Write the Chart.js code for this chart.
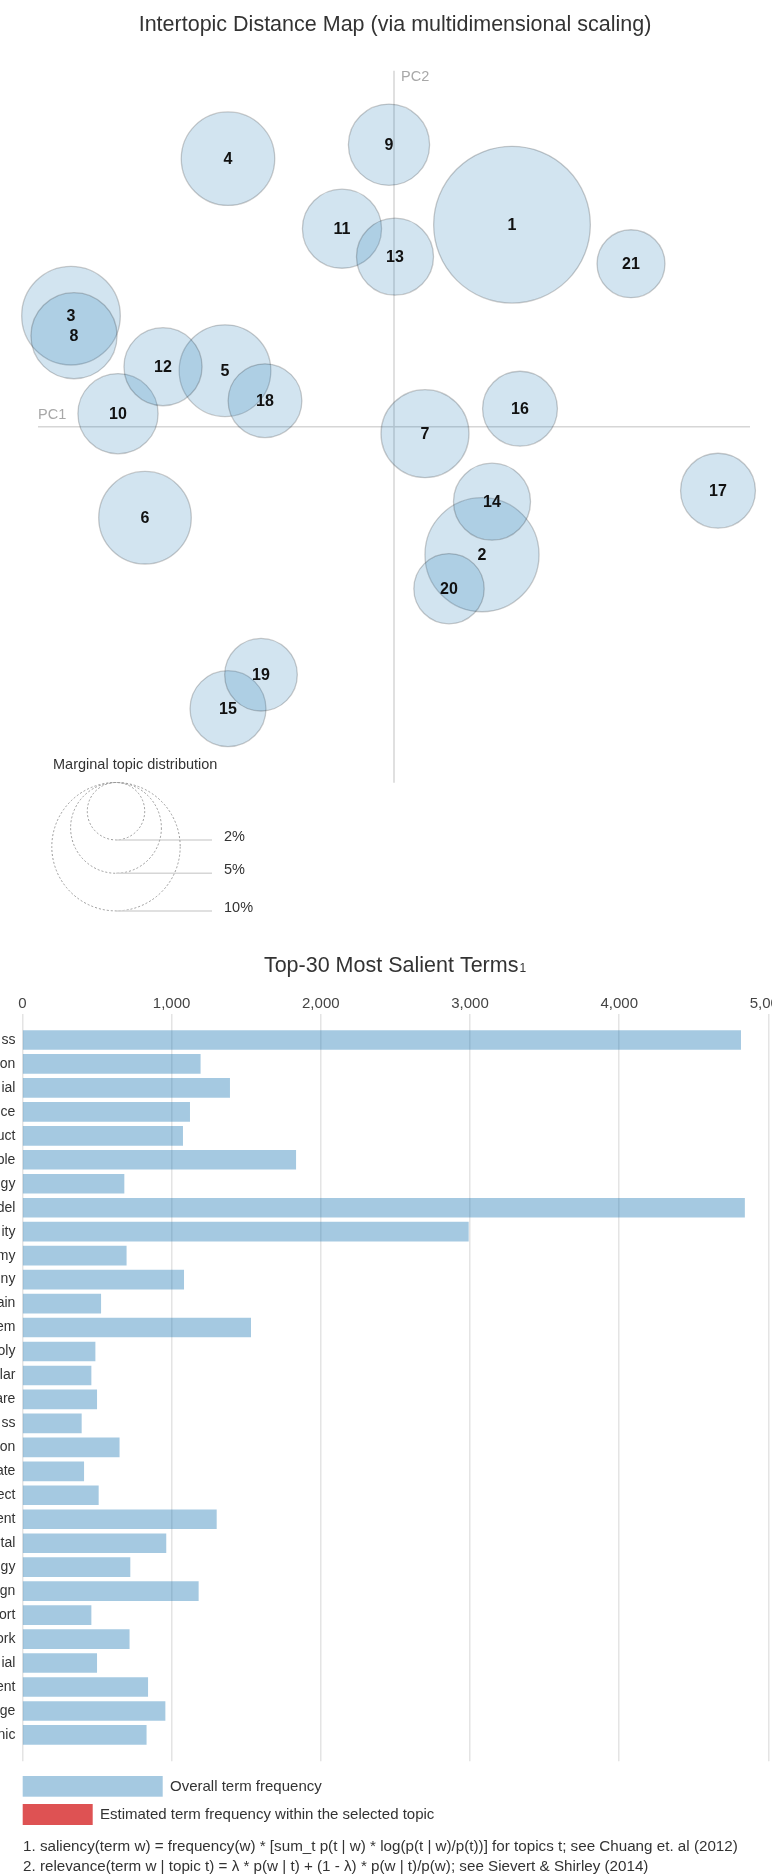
<!DOCTYPE html>
<html>
<head>
<meta charset="utf-8">
<title>Intertopic Distance Map / Top-30 Most Salient Terms</title>
<script src="https://cdn.jsdelivr.net/npm/chart.js@4.4.1/dist/chart.umd.min.js"></script>
<style>
  html, body { margin: 0; padding: 0; background: #fff; overflow: hidden; width: 772px; height: 1874px; }
  #map { position: absolute; left: 0; top: 0; }
  #terms { position: absolute; left: 0; top: 930px; }
</style>
</head>
<body>
<canvas id="map" width="772" height="930"></canvas>
<canvas id="terms" width="800" height="944"></canvas>
<script>
const FONT = '"Liberation Sans", Arial, Helvetica, sans-serif';

// topics on the MDS map (PC1 / PC2) and their marginal share in %
const topicIds = [1, 2, 3, 4, 5, 6, 7, 8, 9, 10, 11, 12, 13, 14, 15, 16, 17, 18, 19, 20, 21];
const topicPC1 = [0.118, 0.088, -0.323, -0.166, -0.169, -0.249, 0.031, -0.320, -0.005, -0.276, -0.052,
                  -0.231, 0.001, 0.098, -0.166, 0.126, 0.324, -0.129, -0.133, 0.055, 0.237];
const topicPC2 = [0.202, -0.128, 0.111, 0.268, 0.056, -0.091, -0.007, 0.091, 0.282, 0.013, 0.198,
                  0.060, 0.170, -0.075, -0.282, 0.018, -0.064, 0.026, -0.248, -0.162, 0.163];
const topicShare = [14.9, 7.9, 5.9, 5.3, 5.1, 5.2, 4.7, 4.5, 4.0, 3.9, 3.8,
                    3.7, 3.6, 3.6, 3.5, 3.4, 3.4, 3.3, 3.2, 3.0, 2.8];
const legendShares = [2, 5, 10];

// salient terms (words are cut off at the left edge of the source)
const terms = ['ss', 'on', 'ial', 'ce', 'uct', 'ble', 'gy', 'del', 'ity', 'my', 'ny', 'ain', 'em', 'oly', 'lar',
               'are', 'ss', 'on', 'ate', 'ect', 'ent', 'tal', 'gy', 'gn', 'ort', 'ork', 'ial', 'ent', 'ge', 'nic'];
const termFreq = [4814, 1192, 1389, 1121, 1074, 1832, 681, 4840, 2989, 696, 1081, 525, 1530, 487, 460,
                  498, 395, 649, 411, 509, 1300, 962, 721, 1179, 460, 716, 498, 840, 956, 830];
const freqTicks = [0, 1000, 2000, 3000, 4000, 5000];

const radiusOf = share => 20.3 * Math.sqrt(share);
const AXIS_EXT = 0.356;

const mapDecor = {
  id: 'mapDecor',
  beforeDatasetsDraw(chart) {
    const { ctx, scales: { x, y } } = chart;
    ctx.save();
    ctx.fillStyle = '#333';
    ctx.font = `21.5px ${FONT}`;
    ctx.textAlign = 'center';
    ctx.textBaseline = 'alphabetic';
    ctx.fillText('Intertopic Distance Map (via multidimensional scaling)', 395, 31);

    // PC axes
    ctx.strokeStyle = '#d6d6d6';
    ctx.lineWidth = 1.5;
    ctx.beginPath();
    ctx.moveTo(x.getPixelForValue(-AXIS_EXT), y.getPixelForValue(0));
    ctx.lineTo(x.getPixelForValue(AXIS_EXT), y.getPixelForValue(0));
    ctx.moveTo(x.getPixelForValue(0), y.getPixelForValue(AXIS_EXT));
    ctx.lineTo(x.getPixelForValue(0), y.getPixelForValue(-AXIS_EXT));
    ctx.stroke();

    ctx.fillStyle = '#a8a8a8';
    ctx.font = `14.5px ${FONT}`;
    ctx.textAlign = 'left';
    ctx.textBaseline = 'middle';
    ctx.fillText('PC1', x.getPixelForValue(-AXIS_EXT), y.getPixelForValue(0) - 12);
    ctx.fillText('PC2', x.getPixelForValue(0) + 7, y.getPixelForValue(AXIS_EXT) + 6);
    ctx.restore();
  },
  afterDatasetsDraw(chart) {
    const { ctx } = chart;
    const meta = chart.getDatasetMeta(0);
    ctx.save();
    // topic numbers
    ctx.fillStyle = '#111';
    ctx.font = `bold 16px ${FONT}`;
    ctx.textAlign = 'center';
    ctx.textBaseline = 'middle';
    meta.data.forEach((pt, i) => ctx.fillText(String(topicIds[i]), pt.x, pt.y + 1));

    // marginal topic distribution legend
    ctx.fillStyle = '#333';
    ctx.font = `14.5px ${FONT}`;
    ctx.textAlign = 'left';
    ctx.fillText('Marginal topic distribution', 53, 765);
    const cx = 116, top = 782.5;
    legendShares.forEach(s => {
      const r = radiusOf(s);
      const bottom = top + 2 * r;
      ctx.setLineDash([2, 2]);
      ctx.strokeStyle = '#9a9a9a';
      ctx.lineWidth = 1;
      ctx.beginPath();
      ctx.arc(cx, top + r, r, 0, Math.PI * 2);
      ctx.stroke();
      ctx.setLineDash([]);
      ctx.strokeStyle = '#d6d6d6';
      ctx.lineWidth = 1.5;
      ctx.beginPath();
      ctx.moveTo(cx, bottom);
      ctx.lineTo(212, bottom);
      ctx.stroke();
      ctx.textBaseline = 'alphabetic';
      ctx.fillStyle = '#333';
      ctx.fillText(s + '%', 224, bottom + 1);
    });
    ctx.restore();
  }
};

new Chart(document.getElementById('map'), {
  type: 'bubble',
  data: {
    datasets: [{
      data: topicIds.map((id, i) => ({ x: topicPC1[i], y: topicPC2[i], r: radiusOf(topicShare[i]) })),
      backgroundColor: 'rgba(31,119,180,0.2)',
      borderColor: 'rgba(0,0,0,0.2)',
      borderWidth: 1.3,
      clip: false,
    }],
  },
  options: {
    responsive: false,
    animation: false,
    layout: { padding: 0, autoPadding: false },
    plugins: { legend: { display: false }, tooltip: { enabled: false } },
    scales: {
      x: { type: 'linear', display: false, min: -0.394, max: 0.378 },
      y: { type: 'linear', display: false, min: -0.5033, max: 0.4267 },
    },
  },
  plugins: [mapDecor],
});

const termDecor = {
  id: 'termDecor',
  afterDraw(chart) {
    const { ctx } = chart;
    ctx.save();
    ctx.fillStyle = '#333';
    ctx.textBaseline = 'alphabetic';
    ctx.textAlign = 'left';
    const main = 'Top-30 Most Salient Terms';
    ctx.font = `21.5px ${FONT}`;
    const w1 = ctx.measureText(main).width;
    ctx.font = `12px ${FONT}`;
    const w2 = ctx.measureText('1').width;
    const x0 = 395 - (w1 + w2 + 1) / 2;
    ctx.font = `21.5px ${FONT}`;
    ctx.fillText(main, x0, 42);
    ctx.font = `12px ${FONT}`;
    ctx.fillText('1', x0 + w1 + 1, 42);

    // legend
    ctx.fillStyle = 'rgba(31,119,180,0.4)';
    ctx.fillRect(22.7, 846, 140, 20.7);
    ctx.fillStyle = 'rgba(214,39,40,0.8)';
    ctx.fillRect(22.7, 874, 70, 21);
    ctx.fillStyle = '#333';
    ctx.font = `15px ${FONT}`;
    ctx.textBaseline = 'middle';
    ctx.fillText('Overall term frequency', 170, 856.5);
    ctx.fillText('Estimated term frequency within the selected topic', 100, 884.5);
    ctx.font = `15.2px ${FONT}`;
    ctx.fillText('1. saliency(term w) = frequency(w) * [sum_t p(t | w) * log(p(t | w)/p(t))] for topics t; see Chuang et. al (2012)', 23, 917);
    ctx.fillText('2. relevance(term w | topic t) = \u03bb * p(w | t) + (1 - \u03bb) * p(w | t)/p(w); see Sievert & Shirley (2014)', 23, 937);
    ctx.restore();
  }
};

new Chart(document.getElementById('terms'), {
  type: 'bar',
  data: {
    datasets: [{
      data: terms.map((t, i) => ({ x: termFreq[i], y: i })),
      backgroundColor: 'rgba(31,119,180,0.4)',
      barThickness: 19,
    }],
  },
  options: {
    indexAxis: 'y',
    responsive: false,
    animation: false,
    layout: { padding: { top: 50, bottom: 112.7, left: 0, right: 31.6 } },
    plugins: { legend: { display: false }, tooltip: { enabled: false } },
    scales: {
      x: {
        type: 'linear',
        position: 'top',
        min: 0,
        max: 5000,
        afterFit: s => { s.height = 33.6; },
        afterBuildTicks: s => { s.ticks = freqTicks.map(v => ({ value: v })); },
        grid: { color: '#e4e4e4', lineWidth: 1.5, drawTicks: false },
        border: { display: false },
        ticks: {
          padding: 1,
          color: '#444',
          font: { family: FONT, size: 15 },
          maxRotation: 0,
          autoSkip: false,
          callback: v => v.toLocaleString('en-US'),
        },
      },
      y: {
        type: 'linear',
        reverse: true,
        offset: false,
        min: -1.1,
        max: 30.1,
        afterFit: s => { s.width = 22.4; },
        afterBuildTicks: s => { s.ticks = terms.map((t, i) => ({ value: i })); },
        grid: { display: false, drawTicks: false, offset: false },
        border: { display: false },
        ticks: {
          padding: 7,
          color: '#333',
          font: { family: FONT, size: 14 },
          autoSkip: false,
          callback: v => terms[v],
        },
      },
    },
  },
  plugins: [termDecor],
});
</script>
</body>
</html>
